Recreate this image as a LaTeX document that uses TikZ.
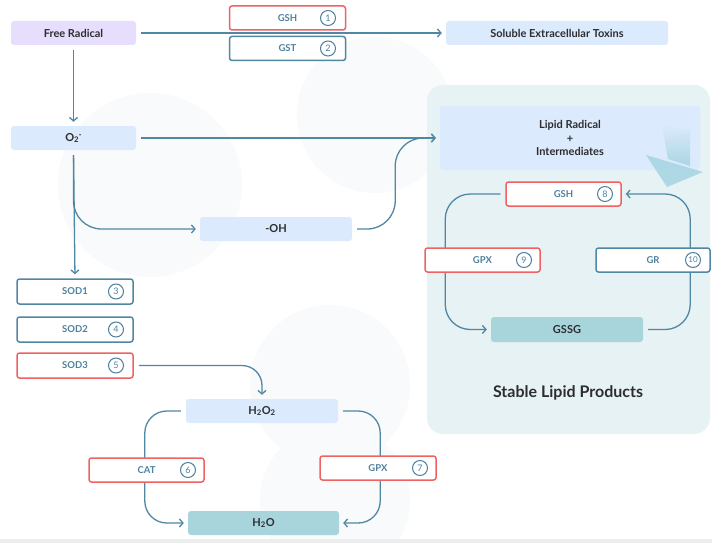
\documentclass[tikz,border=0pt]{standalone}
\usepackage{fontspec}
\setmainfont{Lato}
\usetikzlibrary{arrows.meta,calc}
\definecolor{lnblue}{RGB}{80,136,163}
\definecolor{redc}{RGB}{240,98,98}
\definecolor{lightbl}{RGB}{219,234,252}
\definecolor{purp}{RGB}{230,222,252}
\definecolor{tealf}{RGB}{168,213,220}
\definecolor{panelf}{RGB}{230,242,244}
\definecolor{txtdark}{RGB}{45,45,48}
\definecolor{enztxt}{RGB}{78,128,158}
\definecolor{faint}{RGB}{249,250,251}
\definecolor{triblue}{RGB}{165,212,226}
\definecolor{bottomg}{RGB}{236,237,239}
\pgfdeclarelayer{bgbg}
\pgfdeclarelayer{bg}
\pgfsetlayers{bgbg,bg,main}
\tikzset{
  box/.style={rounded corners=3, inner sep=0, minimum height=24, text=txtdark,
    font=\fontsize{11}{12}\selectfont\bfseries},
  lb/.style={box, fill=lightbl},
  tb/.style={box, fill=tealf},
  enz/.style={draw=lnblue, line width=1.5, fill=white, rounded corners=2.5,
    minimum width=116, minimum height=24, inner sep=0, text=enztxt,
    font=\fontsize{9.5}{10}\selectfont\bfseries},
  enzr/.style={enz, draw=redc},
  num/.style={circle, draw=enztxt, line width=1, minimum size=15, inner sep=0,
    text=enztxt, font=\fontsize{9}{10}\selectfont},
  arr/.style={draw=lnblue, line width=1.3, -{Straight Barb[length=3.5,width=8]},
    shorten >=4, shorten <=5}
}
\begin{document}
\begin{tikzpicture}[x=1pt,y=-1pt]
\useasboundingbox (0,0) rectangle (712,543);
\begin{pgfonlayer}{bgbg}
  \fill[white] (0,0) rectangle (712,543);
  \fill[faint] (150,185) circle (92);
  \fill[faint] (375,115) circle (78);
  \fill[faint] (330,385) circle (80);
  \fill[faint] (335,500) circle (75);
  \fill[panelf, rounded corners=16] (427,85) rectangle (710,434);
  \fill[bottomg] (0,539) rectangle (712,543);
\end{pgfonlayer}

% main boxes
\node[box, fill=purp, minimum width=125] (fr) at (73.5,33) {Free Radical};
\node[lb, minimum width=222] (sol) at (557,33) {Soluble Extracellular Toxins};
\node[enzr] (gsh1) at (287.5,18) {GSH};
\node[num] (n1) at (328,18) {1};
\node[enz] (gst2) at (287.5,48.5) {GST};
\node[num] (n2) at (328,48.5) {2};
\node[lb, minimum width=125] (o2) at (73.5,138) {O\textsubscript{2}\textsuperscript{·}};
\node[lb, minimum width=152] (oh) at (276,229) {-OH};
\node[lb, minimum width=260, minimum height=64, align=center,
  font=\fontsize{11}{13.5}\selectfont\bfseries] (lip) at (570,138)
  {Lipid Radical\\+\\Intermediates};
\shade[top color=lightbl, bottom color=triblue, opacity=0.9]
  (662,125) -- (690,130) -- (690,166) -- (668,159) -- cycle;
\fill[triblue, opacity=0.85] (646,155) -- (703,172) -- (667,187) -- cycle;

\node[enz, minimum width=116, minimum height=25] (sod1) at (75,291.5) {SOD1};
\node[num] (n3) at (116,291.5) {3};
\node[enz, minimum width=116, minimum height=25] (sod2) at (75,329.5) {SOD2};
\node[num] (n4) at (116,329.5) {4};
\node[enzr, minimum width=116, minimum height=25] (sod3) at (75,365.5) {SOD3};
\node[num] (n5) at (116,365.5) {5};

\node[lb, minimum width=152] (h2o2) at (262,411) {H\textsubscript{2}O\textsubscript{2}};
\node[tb, minimum width=151] (h2o) at (263.5,523) {H\textsubscript{2}O};
\node[enzr, minimum width=115] (cat) at (146.5,470) {CAT};
\node[num] (n6) at (188,470) {6};
\node[enzr] (gpx7) at (378,468) {GPX};
\node[num] (n7) at (420,468) {7};

\node[enzr, minimum width=115] (gsh8) at (563.5,194) {GSH};
\node[num] (n8) at (605,194) {8};
\node[enzr, minimum width=115] (gpx9) at (482.5,260) {GPX};
\node[num] (n9) at (524,260) {9};
\node[enz, minimum width=114] (gr) at (653,260) {GR};
\node[num] (n10) at (693,260) {\fontsize{8}{8}\selectfont 10};
\node[tb, minimum width=152, minimum height=25] (gssg) at (567,329.5) {GSSG};
\node[text=txtdark, font=\fontsize{16}{18}\selectfont\bfseries] (slp) at (568,393) {Stable Lipid Products};

% connectors
\begin{pgfonlayer}{bg}
\draw[arr] (fr.east) -- (sol.west);
\draw[arr] (fr.south) -- (o2.north);
\draw[arr] (o2.east) -- (lip.west);
\draw[arr] (o2.south) -- (sod1.north);
\draw[arr, rounded corners=28] (o2.south) |- (oh.west);
\draw[arr, rounded corners=28] (oh.east) -- ++(43,0) |- (lip.west);
\draw[arr, rounded corners=20] (sod3.east) -| (h2o2.north);
\draw[arr, rounded corners=22] (h2o2.west) -- ++(-41,0) |- (h2o.west);
\draw[arr, rounded corners=22] (h2o2.east) -- ++(42,0) |- (h2o.east);
\draw[arr, rounded corners=25] (gsh8.west) -- ++(-60,0) |- (gssg.west);
\draw[arr, rounded corners=25] (gssg.east) -- ++(47,0) |- (gsh8.east);
\end{pgfonlayer}
\end{tikzpicture}
\end{document}
